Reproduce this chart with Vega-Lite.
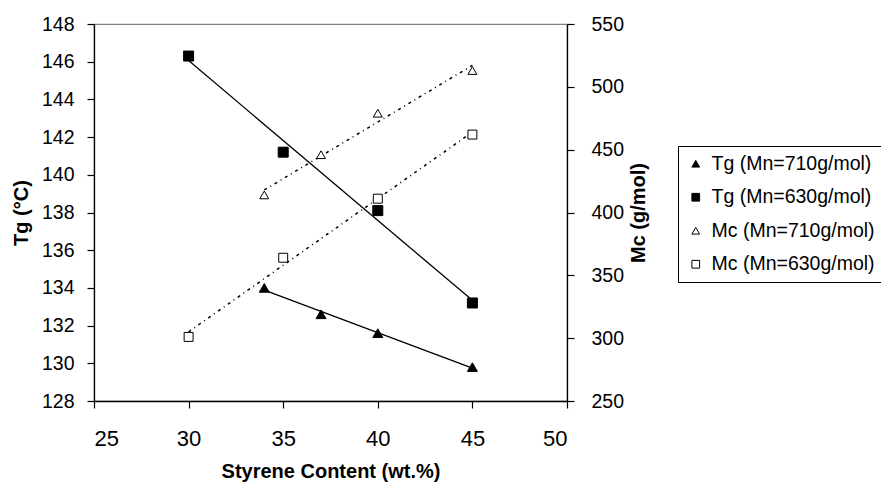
{
  "$schema": "https://vega.github.io/schema/vega-lite/v6.json",
  "width": 473,
  "height": 377,
  "autosize": {"type": "none"},
  "padding": {"left": 94, "top": 24, "right": 314, "bottom": 82},
  "background": "white",
  "config": {
    "font": "Liberation Sans",
    "view": {"stroke": "#808080", "strokeWidth": 1.2},
    "axis": {
      "grid": false,
      "domainColor": "#000000",
      "domainWidth": 1.3,
      "tickColor": "#000000",
      "tickWidth": 1.2,
      "tickSize": 7,
      "labelColor": "#000000",
      "titleColor": "#000000",
      "labelFont": "Liberation Sans",
      "titleFont": "Liberation Sans",
      "titleFontWeight": "bold",
      "titleFontSize": 20,
      "labelFontSize": 19.5
    },
    "legend": {
      "orient": "none",
      "legendX": 584,
      "legendY": 122,
      "strokeColor": "#000000",
      "padding": 8,
      "labelFont": "Liberation Sans",
      "labelFontSize": 19.5,
      "labelColor": "#000000",
      "labelLimit": 0,
      "symbolSize": 60,
      "symbolStrokeWidth": 1,
      "rowPadding": 12.5,
      "labelOffset": 6
    }
  },
  "datasets": {
    "tg": [
      {"series": "Tg (Mn=710g/mol)", "styrene": 34, "tg": 134.0},
      {"series": "Tg (Mn=710g/mol)", "styrene": 37, "tg": 132.6},
      {"series": "Tg (Mn=710g/mol)", "styrene": 40, "tg": 131.6},
      {"series": "Tg (Mn=710g/mol)", "styrene": 45, "tg": 129.8},
      {"series": "Tg (Mn=630g/mol)", "styrene": 30, "tg": 146.3},
      {"series": "Tg (Mn=630g/mol)", "styrene": 35, "tg": 141.2},
      {"series": "Tg (Mn=630g/mol)", "styrene": 40, "tg": 138.1},
      {"series": "Tg (Mn=630g/mol)", "styrene": 45, "tg": 133.2}
    ],
    "mc": [
      {"series": "Mc (Mn=710g/mol)", "styrene": 34, "mc": 414},
      {"series": "Mc (Mn=710g/mol)", "styrene": 37, "mc": 446},
      {"series": "Mc (Mn=710g/mol)", "styrene": 40, "mc": 479},
      {"series": "Mc (Mn=710g/mol)", "styrene": 45, "mc": 513},
      {"series": "Mc (Mn=630g/mol)", "styrene": 30, "mc": 301},
      {"series": "Mc (Mn=630g/mol)", "styrene": 35, "mc": 364},
      {"series": "Mc (Mn=630g/mol)", "styrene": 40, "mc": 411},
      {"series": "Mc (Mn=630g/mol)", "styrene": 45, "mc": 462}
    ]
  },
  "layer": [
    {
      "data": {"name": "tg"},
      "layer": [
        {
          "transform": [{"regression": "tg", "on": "styrene", "groupby": ["series"]}],
          "mark": {"type": "line", "color": "#000000", "strokeWidth": 1.3},
          "encoding": {
            "x": {"field": "styrene", "type": "quantitative"},
            "y": {"field": "tg", "type": "quantitative"},
            "detail": {"field": "series"}
          }
        },
        {
          "mark": {"type": "point", "strokeWidth": 1, "opacity": 1, "size": 100},
          "encoding": {
            "x": {"field": "styrene", "type": "quantitative"},
            "y": {"field": "tg", "type": "quantitative"},
            "shape": {"field": "series", "type": "nominal", "title": null,
              "scale": {"domain": ["Tg (Mn=710g/mol)", "Tg (Mn=630g/mol)", "Mc (Mn=710g/mol)", "Mc (Mn=630g/mol)"],
                        "range": ["triangle-up", "square", "triangle-up", "square"]}},
            "fill": {"field": "series", "type": "nominal", "title": null,
              "scale": {"domain": ["Tg (Mn=710g/mol)", "Tg (Mn=630g/mol)", "Mc (Mn=710g/mol)", "Mc (Mn=630g/mol)"],
                        "range": ["#000000", "#000000", "#ffffff", "#ffffff"]}},
            "stroke": {"field": "series", "type": "nominal", "title": null,
              "scale": {"domain": ["Tg (Mn=710g/mol)", "Tg (Mn=630g/mol)", "Mc (Mn=710g/mol)", "Mc (Mn=630g/mol)"],
                        "range": ["#000000", "#000000", "#000000", "#000000"]}}
          }
        }
      ],
      "encoding": {
        "x": {"field": "styrene", "type": "quantitative",
          "scale": {"domain": [25, 50], "nice": false, "zero": false},
          "axis": {"values": [25, 30, 35, 40, 45, 50], "labelFontSize": 22, "labelPadding": 20,
                   "title": "Styrene Content (wt.%)", "titlePadding": 12}},
        "y": {"field": "tg", "type": "quantitative",
          "scale": {"domain": [128, 148], "nice": false, "zero": false},
          "axis": {"orient": "left", "values": [128, 130, 132, 134, 136, 138, 140, 142, 144, 146, 148],
                   "labelPadding": 13, "title": "Tg (°C)", "titlePadding": 10}}
      }
    },
    {
      "data": {"name": "mc"},
      "layer": [
        {
          "transform": [{"regression": "mc", "on": "styrene", "groupby": ["series"]}],
          "mark": {"type": "line", "color": "#000000", "strokeWidth": 1.5, "strokeDash": [3, 4, 1, 4]},
          "encoding": {
            "x": {"field": "styrene", "type": "quantitative"},
            "y": {"field": "mc", "type": "quantitative"},
            "detail": {"field": "series"}
          }
        },
        {
          "mark": {"type": "point", "strokeWidth": 1, "opacity": 1, "size": 80},
          "encoding": {
            "x": {"field": "styrene", "type": "quantitative"},
            "y": {"field": "mc", "type": "quantitative"},
            "shape": {"field": "series", "type": "nominal", "title": null},
            "fill": {"field": "series", "type": "nominal", "title": null},
            "stroke": {"field": "series", "type": "nominal", "title": null}
          }
        }
      ],
      "encoding": {
        "x": {"field": "styrene", "type": "quantitative",
          "scale": {"domain": [25, 50], "nice": false, "zero": false},
          "axis": {"values": [25, 30, 35, 40, 45, 50], "labelFontSize": 22, "labelPadding": 20,
                   "title": "Styrene Content (wt.%)", "titlePadding": 12}},
        "y": {"field": "mc", "type": "quantitative",
          "scale": {"domain": [250, 550], "nice": false, "zero": false},
          "axis": {"orient": "right", "values": [250, 300, 350, 400, 450, 500, 550],
                   "labelPadding": 17, "title": "Mc (g/mol)", "titleAngle": 270,
                   "titleBaseline": "top", "titlePadding": 5}}
      }
    }
  ],
  "resolve": {"scale": {"y": "independent"}}
}
